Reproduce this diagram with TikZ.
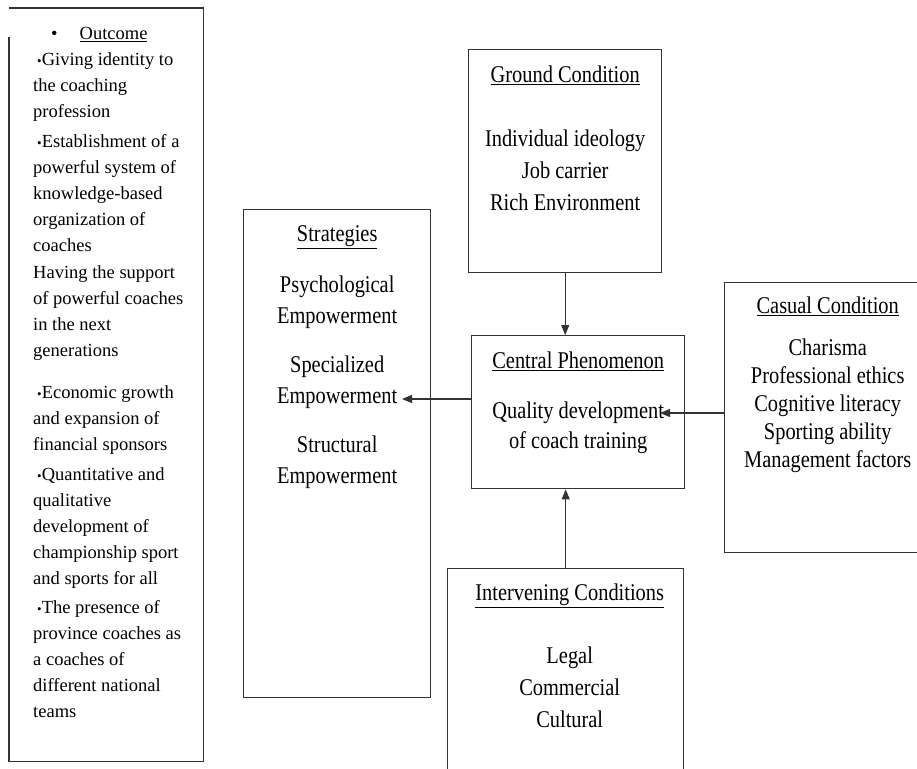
\documentclass[tikz,border=0pt]{standalone}
\usepackage{fontspec}
\setmainfont{Liberation Serif}
\newfontfamily\narrowfont{Liberation Serif}[FakeStretch=0.85]
\usetikzlibrary{arrows.meta,positioning,calc}

\newcommand{\obul}{\hspace*{4pt}{\fontsize{13}{13}\selectfont•}}

\begin{document}
\begin{tikzpicture}[
  x=1pt, y=-1pt,
  >={Triangle[length=10pt,width=8pt]},
  box/.style={draw=black!80, line width=1.4pt, anchor=north west, inner sep=0pt},
  boxtext/.style={inner sep=0pt, align=center, font=\narrowfont\fontsize{24}{#1}\selectfont},
  outtext/.style={inner sep=0pt, font=\fontsize{18.5}{26}\selectfont},
  arrow/.style={->, line width=1.1pt, draw=black!80}
]
\useasboundingbox (0,0) rectangle (917,768);

% outcome column
\node[box, draw=none, minimum width=193pt, minimum height=752pt] (outcome) at (9,8) {};
\draw[line width=1.4pt, draw=black!80] ([yshift=-29pt]outcome.north west) |- (outcome.south east) |- (outcome.north west);
\node[outtext, anchor=base west] (outhead) at (51,40) {•\hspace{22pt}\underline{Outcome}};
\node[outtext, anchor=north west, align=left] (outbody) at (33,52) {\obul Giving identity to\\
the coaching\\
profession\\[4pt]
\obul Establishment of a\\
powerful system of\\
knowledge-based\\
organization of\\
coaches\\[1pt]
Having the support\\
of powerful coaches\\
in the next\\
generations\\[16pt]
\obul Economic growth\\
and expansion of\\
financial sponsors\\[4pt]
\obul Quantitative and\\
qualitative\\
development of\\
championship sport\\
and sports for all\\[3pt]
\obul The presence of\\
province coaches as\\
a coaches of\\
different national\\
teams};

% boxes
\node[box, minimum width=193pt, minimum height=223pt] (ground) at (468,49) {};
\node[box, minimum width=187pt, minimum height=488pt] (strat) at (243,209) {};
\node[box, minimum width=213pt, minimum height=153pt] (central) at (471,335) {};
\node[box, minimum width=206pt, minimum height=270pt] (casual) at (724,282) {};
\node[box, minimum width=236pt, minimum height=220pt] (interv) at (447,568) {};

\node[boxtext=32, below=16.4pt of ground.north] (groundtxt) {\underline{Ground Condition}\\[32pt]
Individual ideology\\ Job carrier\\ Rich Environment};
\node[boxtext=31, below=16.4pt of strat.north] (strattxt) {\underline{Strategies}\\[20pt]
Psychological\\ Empowerment\\[18pt] Specialized\\ Empowerment\\[18pt] Structural\\ Empowerment};
\node[boxtext=30, below=16.4pt of central.north] (centraltxt) {\underline{Central Phenomenon}\\[20pt]
Quality development\\ of coach training};
\node[boxtext=28, below=14.4pt of casual.north] (casualtxt) {\underline{Casual Condition}\\[14pt]
Charisma\\ Professional ethics\\ Cognitive literacy\\ Sporting ability\\ Management factors};
\node[boxtext=32, below=15.4pt of interv.north, xshift=4pt] (intervtxt) {\underline{Intervening Conditions}\\[31pt]
Legal\\ Commercial\\ Cultural};

% connectors
\coordinate (stip) at (402,399);
\coordinate (ctip) at (660,413);
\draw[arrow] (ground.south) -- (ground.south |- central.north);
\draw[arrow] (interv.north) -- (interv.north |- central.south);
\draw[arrow] (central.west |- stip) -- (stip);
\draw[arrow] (casual.west |- ctip) -- (ctip);
\end{tikzpicture}
\end{document}
